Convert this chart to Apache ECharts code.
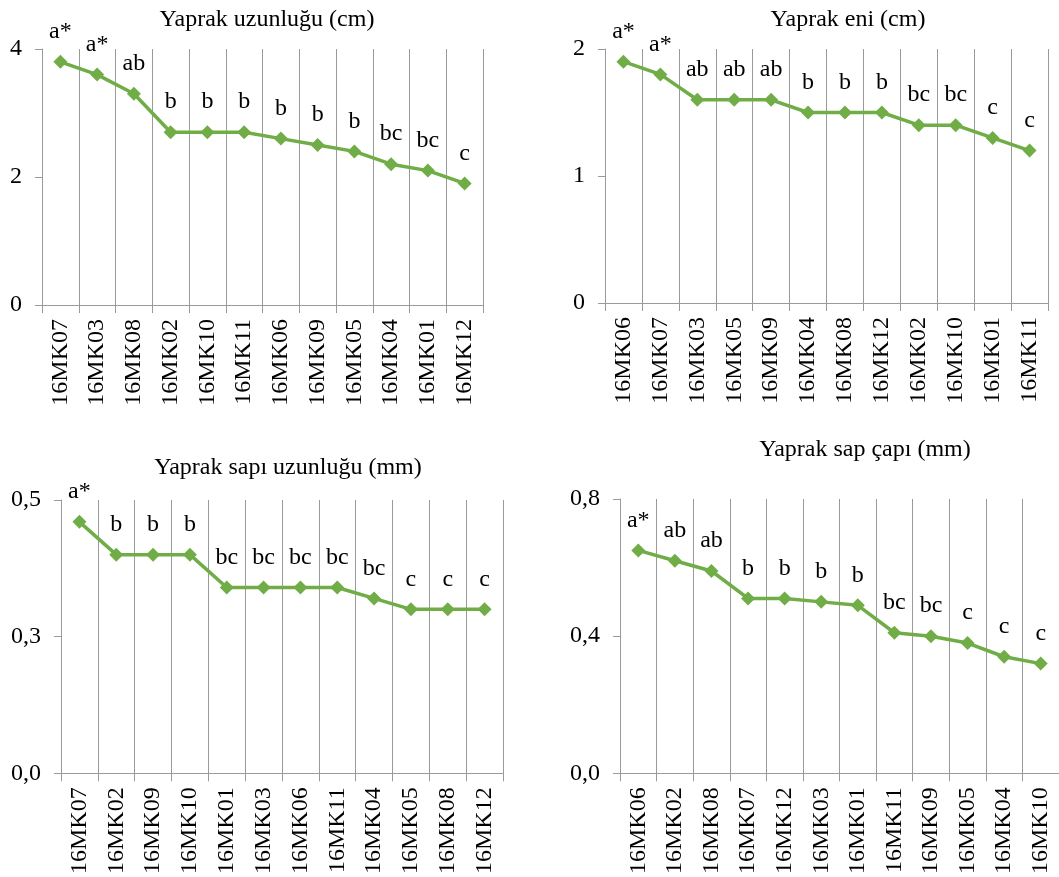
<!DOCTYPE html>
<html>
<head>
<meta charset="utf-8">
<script src="https://cdn.jsdelivr.net/npm/echarts@6/dist/echarts.min.js"></script>
<style>
  html, body { margin: 0; padding: 0; background: #fff; }
  #chart { width: 1059px; height: 877px; }
</style>
</head>
<body>
<div id="chart"></div>
<script>
// Yaprak uzunlugu (cm)
var cat1 = ['16MK07', '16MK03', '16MK08', '16MK02', '16MK10', '16MK11', '16MK06', '16MK09', '16MK05', '16MK04', '16MK01', '16MK12'];
var val1 = [3.8, 3.6, 3.3, 2.7, 2.7, 2.7, 2.6, 2.5, 2.4, 2.2, 2.1, 1.9];
var let1 = ['a*', 'a*', 'ab', 'b', 'b', 'b', 'b', 'b', 'b', 'bc', 'bc', 'c'];

// Yaprak eni (cm)
var cat2 = ['16MK06', '16MK07', '16MK03', '16MK05', '16MK09', '16MK04', '16MK08', '16MK12', '16MK02', '16MK10', '16MK01', '16MK11'];
var val2 = [1.9, 1.8, 1.6, 1.6, 1.6, 1.5, 1.5, 1.5, 1.4, 1.4, 1.3, 1.2];
var let2 = ['a*', 'a*', 'ab', 'ab', 'ab', 'b', 'b', 'b', 'bc', 'bc', 'c', 'c'];

// Yaprak sapi uzunlugu (mm)
var cat3 = ['16MK07', '16MK02', '16MK09', '16MK10', '16MK01', '16MK03', '16MK06', '16MK11', '16MK04', '16MK05', '16MK08', '16MK12'];
var val3 = [0.46, 0.40, 0.40, 0.40, 0.34, 0.34, 0.34, 0.34, 0.32, 0.30, 0.30, 0.30];
var let3 = ['a*', 'b', 'b', 'b', 'bc', 'bc', 'bc', 'bc', 'bc', 'c', 'c', 'c'];

// Yaprak sap capi (mm)
var cat4 = ['16MK06', '16MK02', '16MK08', '16MK07', '16MK12', '16MK03', '16MK01', '16MK11', '16MK09', '16MK05', '16MK04', '16MK10'];
var val4 = [0.65, 0.62, 0.59, 0.51, 0.51, 0.50, 0.49, 0.41, 0.40, 0.38, 0.34, 0.32];
var let4 = ['a*', 'ab', 'ab', 'b', 'b', 'b', 'b', 'bc', 'bc', 'c', 'c', 'c'];

var titles = ['Yaprak uzunluğu (cm)', 'Yaprak eni (cm)', 'Yaprak sapı uzunluğu (mm)', 'Yaprak sap çapı (mm)'];

var FONT = '"Liberation Serif", "Times New Roman", serif';
var GRAY = '#9a9a9a';
var GREEN = '#70ad47';

var chart = echarts.init(document.getElementById('chart'), null, { renderer: 'canvas' });

function fmtComma(v) {
    return v.toFixed(1).replace('.', ',');
}

function makeX(idx, cats) {
    return {
        type: 'category',
        gridIndex: idx,
        data: cats,
        boundaryGap: true,
        axisLine: { lineStyle: { color: GRAY, width: 1 } },
        axisTick: { show: true, length: 8, lineStyle: { color: GRAY } },
        splitLine: { show: true, lineStyle: { color: GRAY, width: 1 } },
        axisLabel: {
            rotate: 90,
            interval: 0,
            margin: 14,
            color: '#000',
            fontFamily: FONT,
            fontSize: 24
        }
    };
}

function makeY(idx, max, step, fmt) {
    return {
        type: 'value',
        gridIndex: idx,
        min: 0,
        max: max,
        interval: step,
        axisLine: { show: true, lineStyle: { color: GRAY, width: 1 } },
        axisTick: { show: true, length: 7, lineStyle: { color: GRAY } },
        splitLine: { show: false },
        axisLabel: {
            margin: 20,
            color: '#000',
            fontFamily: FONT,
            fontSize: 24,
            formatter: fmt
        }
    };
}

function makeSeries(idx, vals, lets) {
    return {
        type: 'line',
        xAxisIndex: idx,
        yAxisIndex: idx,
        data: vals,
        symbol: 'diamond',
        symbolSize: 14,
        lineStyle: { color: GREEN, width: 3.5 },
        itemStyle: { color: GREEN },
        label: {
            show: true,
            position: 'top',
            distance: 11,
            color: '#000',
            fontFamily: FONT,
            fontSize: 24,
            formatter: function (p) { return lets[p.dataIndex]; }
        },
        animation: false
    };
}

var option = {
    backgroundColor: '#fff',
    title: [
        { text: titles[0], left: 262, top: 3, textAlign: 'center' },
        { text: titles[1], left: 843, top: 3, textAlign: 'center' },
        { text: titles[2], left: 283, top: 451, textAlign: 'center' },
        { text: titles[3], left: 860, top: 433, textAlign: 'center' }
    ].map(function (t) {
        t.textStyle = { color: '#000', fontFamily: FONT, fontSize: 24, fontWeight: 'normal' };
        return t;
    }),
    grid: [
        { left: 42, top: 49, width: 441, height: 256 },
        { left: 605, top: 49, width: 443, height: 254 },
        { left: 61, top: 500, width: 442, height: 274 },
        { left: 620, top: 499, width: 440, height: 277 }
    ],
    xAxis: [makeX(0, cat1), makeX(1, cat2), makeX(2, cat3), makeX(3, cat4)],
    yAxis: [
        makeY(0, 4, 2, function (v) { return String(v); }),
        makeY(1, 2, 1, function (v) { return String(v); }),
        makeY(2, 0.5, 0.25, fmtComma),
        makeY(3, 0.8, 0.4, fmtComma)
    ],
    series: [
        makeSeries(0, val1, let1),
        makeSeries(1, val2, let2),
        makeSeries(2, val3, let3),
        makeSeries(3, val4, let4)
    ]
};

chart.setOption(option);
</script>
</body>
</html>
